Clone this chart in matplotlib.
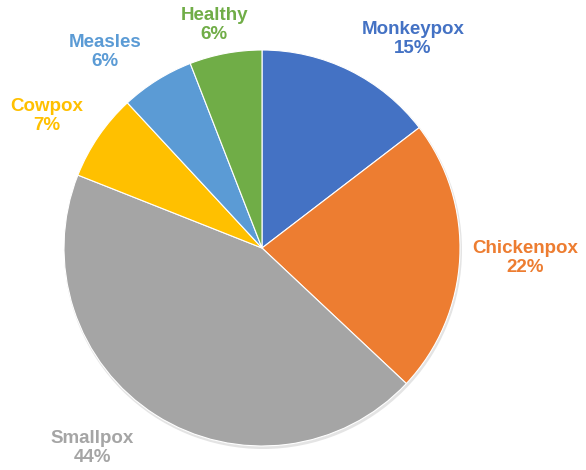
import matplotlib.pyplot as plt

plt.rcParams['font.family'] = ['Liberation Sans', 'DejaVu Sans']

# share of samples per class, clockwise from 12 o'clock
classes = ["Monkeypox", "Chickenpox", "Smallpox", "Cowpox", "Measles", "Healthy"]
shares = [14.6, 22.4, 44.0, 7.1, 6.0, 5.9]
colors = ["#4472C4", "#ED7D31", "#A5A5A5", "#FFC000", "#5B9BD5", "#70AD47"]

# label centres in pixels (x from left, y from top)
label_pos = [(413, 39), (525, 258), (92, 448), (47, 116), (105, 52), (214, 25)]

W, H = 586, 470
fig = plt.figure(figsize=(W / 100, H / 100), dpi=100)
ax = fig.add_axes([0, 0, 1, 1])

# soft shadow under the pie
ax.pie([1], radius=199, center=(263, H - 250), colors=["#e4e4e4"],
       wedgeprops=dict(linewidth=0))
ax.pie(shares, radius=198, center=(262, H - 248), colors=colors,
       startangle=90, counterclock=False,
       wedgeprops=dict(edgecolor="white", linewidth=0.8))
ax.set_xlim(0, W)
ax.set_ylim(0, H)
ax.set_aspect("equal")
ax.axis("off")

for name, val, col, (x, y) in zip(classes, shares, colors, label_pos):
    ax.text(x, H - y, f"{name}\n{round(val)}%", color=col, ha="center",
            va="center", fontsize=13.5, fontweight="bold", linespacing=1.12)

fig.savefig("out.png", dpi=100)
